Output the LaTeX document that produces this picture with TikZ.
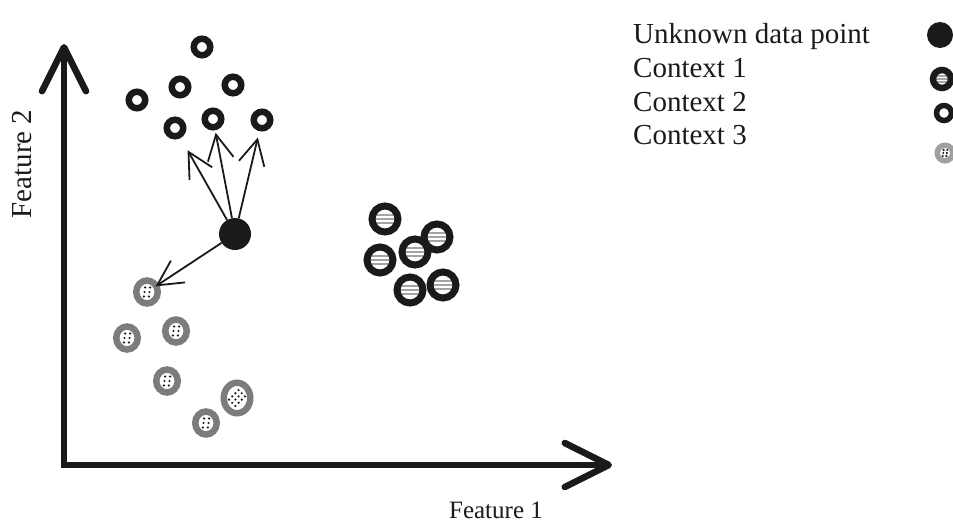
\documentclass[tikz,border=0pt]{standalone}
\usepackage{fontspec}
\setmainfont{Liberation Serif}
\usetikzlibrary{arrows.meta,shapes.geometric}

\definecolor{ink}{HTML}{1A1A1A}
\definecolor{ringgray}{HTML}{7C7C7C}
\definecolor{lightring}{HTML}{A0A0A0}
\definecolor{stripegray}{HTML}{A4A4A4}

% horizontal grey stripes inside a ring, #1 = spacing in pt, #2 = stripe width
\newcommand\ringstripes[2]{%
  \fill[white] (path picture bounding box.south west) rectangle (path picture bounding box.north east);
  \foreach \k in {-1,0,1}{
    \draw[stripegray, line width=#2pt]
      ([yshift=\k*#1pt]path picture bounding box.west) --
      ([yshift=\k*#1pt]path picture bounding box.east);
  }}
% two short columns of black dots
\newcommand\dotpairs[2]{%
  \foreach \dx in {-#1,#1}{
    \foreach \dy in {-#2,0,#2}{
      \fill[ink] ([xshift=\dx pt+\dy*0.15pt, yshift=\dy pt]path picture bounding box.center) circle (1.2pt);
    }}}
% slanted rows of dots for the large ellipse
\newcommand\dotrows{%
  \foreach \d in {-6.75,-2.25,2.25,6.75}{
    \foreach \t in {-4.5,0,4.5}{
      \fill[ink] ([xshift={(\t+\d)*0.707pt}, yshift={(\d-\t)*0.707pt}]path picture bounding box.center) circle (1.2pt);
    }}}

\tikzset{
  ctxone/.style={circle, draw=ink, line width=7pt, minimum size=26pt, inner sep=0pt,
    path picture={\ringstripes{4}{2.2}}},
  ctxtwo/.style={circle, draw=ink, line width=6.5pt, minimum size=16.5pt, inner sep=0pt, fill=white},
  ctxthree/.style={ellipse, draw=ringgray, line width=6.5pt, minimum width=21.5pt,
    minimum height=23pt, inner sep=0pt, fill=white, path picture={\dotpairs{2.5}{4.5}}},
  bigthree/.style={ellipse, draw=ringgray, line width=6.5pt, minimum width=26.5pt,
    minimum height=30.5pt, inner sep=0pt, fill=white, path picture={\dotrows}},
  unknown/.style={circle, fill=ink, minimum size=32pt, inner sep=0pt},
  conn/.style={draw=ink, line width=1.8pt, -{Straight Barb[length=25pt,width=26pt]}},
  axis/.style={draw=ink, line width=6.5pt, line join=miter,
    {Straight Barb[length=44pt,width=44pt,round]}-{Straight Barb[length=44pt,width=44pt,round]}},
  legendtext/.style={anchor=base west, inner sep=0pt, font=\fontsize{29}{33}\selectfont, text=ink},
  axislabel/.style={inner sep=0pt, text=ink},
}

\begin{document}
\begin{tikzpicture}[x=1pt, y=-1pt]
\useasboundingbox (0,0) rectangle (953,523);
\clip (0,0) rectangle (953,523);

% axes
\coordinate (o) at (64,465);
\coordinate (ytop) at (64,44);
\coordinate (xend) at (612,465);
\draw[axis] (ytop) -- (o) -- (xend);
\node[axislabel, rotate=90, font=\fontsize{29}{33}\selectfont] (f2) at (22,164) {Feature 2};
\node[axislabel, font=\fontsize{25}{30}\selectfont] (f1) at (496,510) {Feature 1};

% context 2 cluster
\node[ctxtwo] (c2a) at (202,47) {};
\node[ctxtwo] (c2b) at (137,100) {};
\node[ctxtwo] (c2c) at (180,87) {};
\node[ctxtwo] (c2d) at (233,85) {};
\node[ctxtwo] (c2e) at (175,128) {};
\node[ctxtwo] (c2f) at (213,119) {};
\node[ctxtwo] (c2g) at (262,120) {};

% context 1 cluster
\node[ctxone] (c1a) at (385,219) {};
\node[ctxone] (c1b) at (380,260) {};
\node[ctxone] (c1c) at (415,252) {};
\node[ctxone] (c1d) at (437,237) {};
\node[ctxone] (c1e) at (410,290) {};
\node[ctxone] (c1f) at (443,285) {};

% context 3 cluster
\node[ctxthree] (c3a) at (147,292) {};
\node[ctxthree] (c3b) at (127,338) {};
\node[ctxthree] (c3c) at (176,331) {};
\node[ctxthree] (c3d) at (167,381) {};
\node[bigthree] (c3e) at (237,398) {};
\node[ctxthree] (c3f) at (206,423) {};

% the unknown point and its nearest neighbours
\node[unknown] (u) at (235,234) {};
\draw[conn, shorten >=14pt] (u) -- (c2e);
\draw[conn, shorten >=2.5pt] (u) -- (c2f);
\draw[conn, shorten >=6.5pt] (u) -- (c2g);
\draw[conn, shorten >=-4pt] (u) -- (c3a);

% legend
\node[legendtext] (l0) at (633,43) {Unknown data point};
\node[legendtext] (l1) at (633,77) {Context 1};
\node[legendtext] (l2) at (633,111) {Context 2};
\node[legendtext] (l3) at (633,144) {Context 3};
\node[unknown, minimum size=26pt] (s0) at (940,35) {};
\node[ctxone, line width=6.5pt, minimum size=18pt, path picture={\ringstripes{3.2}{1.6}}] (s1) at (942,79) {};
\node[ctxtwo, line width=5.5pt, minimum size=15pt] (s2) at (944,113) {};
\node[ctxthree, draw=lightring, line width=5.5pt, minimum width=15.5pt, minimum height=15.5pt,
  path picture={\dotpairs{1.8}{3}}] (s3) at (945,153) {};
\end{tikzpicture}
\end{document}
